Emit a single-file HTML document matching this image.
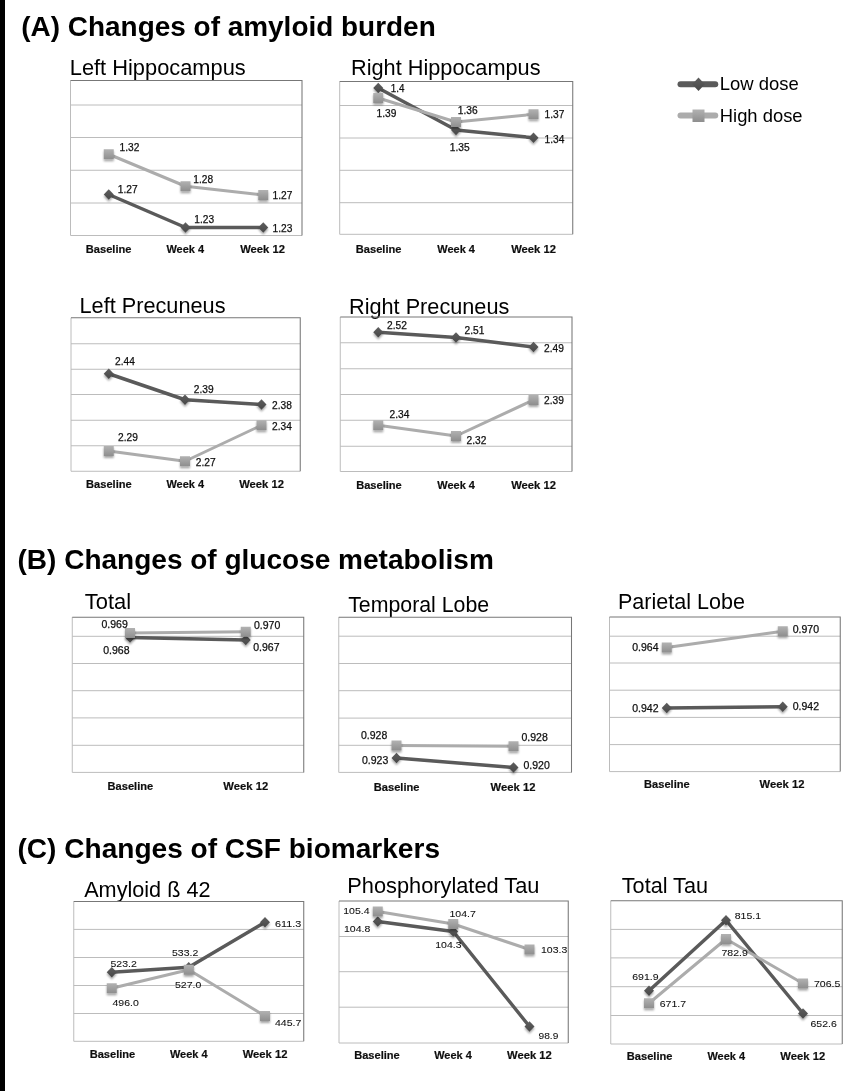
<!DOCTYPE html>
<html lang="en"><head><meta charset="utf-8"><title>Figure</title>
<style>html,body{margin:0;padding:0;background:#fff}body{width:868px;height:1091px;overflow:hidden}svg{display:block}text{font-family:"Liberation Sans",sans-serif;fill:#1c1c1c}.h{font-weight:bold;font-size:27.8px;fill:#000}.t{font-size:21.9px;fill:#000}.l{font-size:10px;fill:#111;stroke:#111;stroke-width:0.25px}.a{font-size:11.3px;font-weight:bold;fill:#111;stroke:#111;stroke-width:0.2px}.g{font-size:18.6px;fill:#000}</style></head><body>
<svg width="868" height="1091" viewBox="0 0 868 1091">
<defs><linearGradient id="lg" x1="0" y1="0" x2="0" y2="1"><stop offset="0" stop-color="#b2b2b2"/><stop offset="1" stop-color="#8e8e8e"/></linearGradient><linearGradient id="dg" x1="0" y1="0" x2="0" y2="1"><stop offset="0" stop-color="#5e5e5e"/><stop offset="1" stop-color="#484848"/></linearGradient><filter id="sh" filterUnits="userSpaceOnUse" x="0" y="0" width="868" height="1091"><feGaussianBlur in="SourceAlpha" stdDeviation="0.9"/><feOffset dx="0" dy="1.6" result="b"/><feComponentTransfer><feFuncA type="linear" slope="0.36"/></feComponentTransfer><feMerge><feMergeNode/><feMergeNode in="SourceGraphic"/></feMerge></filter><filter id="bl"><feGaussianBlur stdDeviation="0.3"/></filter></defs>
<rect x="0" y="0" width="868" height="1091" fill="#fff"/>
<rect x="0" y="0" width="5" height="1091" fill="#000"/>
<g filter="url(#bl)">
<text class="h" x="21.3" y="36.1" textLength="414.4" lengthAdjust="spacingAndGlyphs">(A) Changes of amyloid burden</text>
<text class="h" x="17.5" y="568.8" textLength="476.3" lengthAdjust="spacingAndGlyphs">(B) Changes of glucose metabolism</text>
<text class="h" x="17.5" y="858.35" textLength="422.5" lengthAdjust="spacingAndGlyphs">(C) Changes of CSF biomarkers</text>
<g>
<text class="t" x="69.75" y="74.5" textLength="176" lengthAdjust="spacingAndGlyphs">Left Hippocampus</text>
<path d="M70.5 105H302" stroke="#bcbcbc" stroke-width="1" fill="none"/>
<path d="M70.5 137.5H302" stroke="#bcbcbc" stroke-width="1" fill="none"/>
<path d="M70.5 170.25H302" stroke="#bcbcbc" stroke-width="1" fill="none"/>
<path d="M70.5 203H302" stroke="#bcbcbc" stroke-width="1" fill="none"/>
<path d="M70.5 80.5V235.5H302" fill="none" stroke="#bcbcbc" stroke-width="1"/>
<path d="M70.5 80.5H302V235.5" fill="none" stroke="#777777" stroke-width="1.05"/>
<path d="M108.75 194.5L185.5 227.5L263.25 227.5" stroke="#5a5a5a" stroke-width="3.5" fill="none" stroke-linejoin="round" stroke-linecap="round"/>
<g filter="url(#sh)">
<path d="M108.75 189.25L113.75 194.5L108.75 199.75L103.75 194.5Z" fill="url(#dg)"/>
<path d="M185.5 222.25L190.5 227.5L185.5 232.75L180.5 227.5Z" fill="url(#dg)"/>
<path d="M263.25 222.25L268.25 227.5L263.25 232.75L258.25 227.5Z" fill="url(#dg)"/>
</g>
<path d="M108.75 154.25L185.5 186.25L263.25 195" stroke="#acacac" stroke-width="3.0" fill="none" stroke-linejoin="round" stroke-linecap="round"/>
<g filter="url(#sh)">
<rect x="103.75" y="149.25" width="10" height="10" fill="url(#lg)"/>
<rect x="180.5" y="181.25" width="10" height="10" fill="url(#lg)"/>
<rect x="258.25" y="190" width="10" height="10" fill="url(#lg)"/>
</g>
<text class="l" x="119.5" y="151.2" textLength="19.8" lengthAdjust="spacingAndGlyphs">1.32</text>
<text class="l" x="117.8" y="193.1" textLength="19.8" lengthAdjust="spacingAndGlyphs">1.27</text>
<text class="l" x="193.25" y="183.25" textLength="19.8" lengthAdjust="spacingAndGlyphs">1.28</text>
<text class="l" x="194.25" y="223" textLength="19.8" lengthAdjust="spacingAndGlyphs">1.23</text>
<text class="l" x="272.5" y="199.25" textLength="19.8" lengthAdjust="spacingAndGlyphs">1.27</text>
<text class="l" x="272.5" y="231.75" textLength="19.8" lengthAdjust="spacingAndGlyphs">1.23</text>
<text class="a" x="85.8" y="253.25" textLength="45.6" lengthAdjust="spacingAndGlyphs">Baseline</text>
<text class="a" x="166.45" y="253.25" textLength="37.6" lengthAdjust="spacingAndGlyphs">Week 4</text>
<text class="a" x="240.2" y="253.25" textLength="44.8" lengthAdjust="spacingAndGlyphs">Week 12</text>
</g>
<g>
<text class="t" x="351" y="74.5" textLength="189.5" lengthAdjust="spacingAndGlyphs">Right Hippocampus</text>
<path d="M339.7 105.5H572.75" stroke="#bcbcbc" stroke-width="1" fill="none"/>
<path d="M339.7 138H572.75" stroke="#bcbcbc" stroke-width="1" fill="none"/>
<path d="M339.7 170.3H572.75" stroke="#bcbcbc" stroke-width="1" fill="none"/>
<path d="M339.7 202.7H572.75" stroke="#bcbcbc" stroke-width="1" fill="none"/>
<path d="M339.7 81.4V234.3H572.75" fill="none" stroke="#bcbcbc" stroke-width="1"/>
<path d="M339.7 81.4H572.75V234.3" fill="none" stroke="#777777" stroke-width="1.05"/>
<path d="M378.25 88L456 130L533.5 137.75" stroke="#5a5a5a" stroke-width="3.5" fill="none" stroke-linejoin="round" stroke-linecap="round"/>
<g filter="url(#sh)">
<path d="M378.25 82.75L383.25 88L378.25 93.25L373.25 88Z" fill="url(#dg)"/>
<path d="M456 124.75L461 130L456 135.25L451 130Z" fill="url(#dg)"/>
<path d="M533.5 132.5L538.5 137.75L533.5 143L528.5 137.75Z" fill="url(#dg)"/>
</g>
<path d="M378.25 98L456 122L533.5 114.25" stroke="#acacac" stroke-width="3.0" fill="none" stroke-linejoin="round" stroke-linecap="round"/>
<g filter="url(#sh)">
<rect x="373.25" y="93" width="10" height="10" fill="url(#lg)"/>
<rect x="451" y="117" width="10" height="10" fill="url(#lg)"/>
<rect x="528.5" y="109.25" width="10" height="10" fill="url(#lg)"/>
</g>
<text class="l" x="390.75" y="91.5" textLength="13.6" lengthAdjust="spacingAndGlyphs">1.4</text>
<text class="l" x="376.5" y="117" textLength="19.8" lengthAdjust="spacingAndGlyphs">1.39</text>
<text class="l" x="457.75" y="113.75" textLength="19.8" lengthAdjust="spacingAndGlyphs">1.36</text>
<text class="l" x="449.75" y="151.25" textLength="19.8" lengthAdjust="spacingAndGlyphs">1.35</text>
<text class="l" x="544.5" y="118.25" textLength="19.8" lengthAdjust="spacingAndGlyphs">1.37</text>
<text class="l" x="544.5" y="142.5" textLength="19.8" lengthAdjust="spacingAndGlyphs">1.34</text>
<text class="a" x="355.8" y="252.5" textLength="45.6" lengthAdjust="spacingAndGlyphs">Baseline</text>
<text class="a" x="437.3" y="252.5" textLength="37.6" lengthAdjust="spacingAndGlyphs">Week 4</text>
<text class="a" x="511.2" y="252.5" textLength="44.8" lengthAdjust="spacingAndGlyphs">Week 12</text>
</g>
<g>
<text class="t" x="79.5" y="313.25" textLength="146" lengthAdjust="spacingAndGlyphs">Left Precuneus</text>
<path d="M71 343.75H300.25" stroke="#bcbcbc" stroke-width="1" fill="none"/>
<path d="M71 369.25H300.25" stroke="#bcbcbc" stroke-width="1" fill="none"/>
<path d="M71 394.5H300.25" stroke="#bcbcbc" stroke-width="1" fill="none"/>
<path d="M71 420.25H300.25" stroke="#bcbcbc" stroke-width="1" fill="none"/>
<path d="M71 445.75H300.25" stroke="#bcbcbc" stroke-width="1" fill="none"/>
<path d="M71 317.75V471.25H300.25" fill="none" stroke="#bcbcbc" stroke-width="1"/>
<path d="M71 317.75H300.25V471.25" fill="none" stroke="#777777" stroke-width="1.05"/>
<path d="M108.75 373.75L185 399.75L261.5 404.5" stroke="#5a5a5a" stroke-width="3.5" fill="none" stroke-linejoin="round" stroke-linecap="round"/>
<g filter="url(#sh)">
<path d="M108.75 368.5L113.75 373.75L108.75 379L103.75 373.75Z" fill="url(#dg)"/>
<path d="M185 394.5L190 399.75L185 405L180 399.75Z" fill="url(#dg)"/>
<path d="M261.5 399.25L266.5 404.5L261.5 409.75L256.5 404.5Z" fill="url(#dg)"/>
</g>
<path d="M108.75 451L185 461.25L261.5 425.25" stroke="#acacac" stroke-width="3.0" fill="none" stroke-linejoin="round" stroke-linecap="round"/>
<g filter="url(#sh)">
<rect x="103.75" y="446" width="10" height="10" fill="url(#lg)"/>
<rect x="180" y="456.25" width="10" height="10" fill="url(#lg)"/>
<rect x="256.5" y="420.25" width="10" height="10" fill="url(#lg)"/>
</g>
<text class="l" x="115" y="365.25" textLength="19.8" lengthAdjust="spacingAndGlyphs">2.44</text>
<text class="l" x="193.75" y="393.25" textLength="19.8" lengthAdjust="spacingAndGlyphs">2.39</text>
<text class="l" x="118" y="441.25" textLength="19.8" lengthAdjust="spacingAndGlyphs">2.29</text>
<text class="l" x="195.75" y="465.75" textLength="19.8" lengthAdjust="spacingAndGlyphs">2.27</text>
<text class="l" x="272" y="409" textLength="19.8" lengthAdjust="spacingAndGlyphs">2.38</text>
<text class="l" x="272" y="429.5" textLength="19.8" lengthAdjust="spacingAndGlyphs">2.34</text>
<text class="a" x="86.1" y="488.25" textLength="45.6" lengthAdjust="spacingAndGlyphs">Baseline</text>
<text class="a" x="166.45" y="488.25" textLength="37.6" lengthAdjust="spacingAndGlyphs">Week 4</text>
<text class="a" x="239.2" y="488.25" textLength="44.8" lengthAdjust="spacingAndGlyphs">Week 12</text>
</g>
<g>
<text class="t" x="349" y="314.1" textLength="160.3" lengthAdjust="spacingAndGlyphs">Right Precuneus</text>
<path d="M340.25 342.75H572" stroke="#bcbcbc" stroke-width="1" fill="none"/>
<path d="M340.25 368.75H572" stroke="#bcbcbc" stroke-width="1" fill="none"/>
<path d="M340.25 394.5H572" stroke="#bcbcbc" stroke-width="1" fill="none"/>
<path d="M340.25 420.25H572" stroke="#bcbcbc" stroke-width="1" fill="none"/>
<path d="M340.25 446.25H572" stroke="#bcbcbc" stroke-width="1" fill="none"/>
<path d="M340.25 317V471.5H572" fill="none" stroke="#bcbcbc" stroke-width="1"/>
<path d="M340.25 317H572V471.5" fill="none" stroke="#777777" stroke-width="1.05"/>
<path d="M378.25 332.25L456 337.5L533.5 347" stroke="#5a5a5a" stroke-width="3.5" fill="none" stroke-linejoin="round" stroke-linecap="round"/>
<g filter="url(#sh)">
<path d="M378.25 327L383.25 332.25L378.25 337.5L373.25 332.25Z" fill="url(#dg)"/>
<path d="M456 332.25L461 337.5L456 342.75L451 337.5Z" fill="url(#dg)"/>
<path d="M533.5 341.75L538.5 347L533.5 352.25L528.5 347Z" fill="url(#dg)"/>
</g>
<path d="M378.25 425.25L456 436L533.5 400" stroke="#acacac" stroke-width="3.0" fill="none" stroke-linejoin="round" stroke-linecap="round"/>
<g filter="url(#sh)">
<rect x="373.25" y="420.25" width="10" height="10" fill="url(#lg)"/>
<rect x="451" y="431" width="10" height="10" fill="url(#lg)"/>
<rect x="528.5" y="395" width="10" height="10" fill="url(#lg)"/>
</g>
<text class="l" x="387" y="328.75" textLength="19.8" lengthAdjust="spacingAndGlyphs">2.52</text>
<text class="l" x="389.5" y="417.75" textLength="19.8" lengthAdjust="spacingAndGlyphs">2.34</text>
<text class="l" x="464.5" y="333.75" textLength="19.8" lengthAdjust="spacingAndGlyphs">2.51</text>
<text class="l" x="466.5" y="444" textLength="19.8" lengthAdjust="spacingAndGlyphs">2.32</text>
<text class="l" x="544" y="352" textLength="19.8" lengthAdjust="spacingAndGlyphs">2.49</text>
<text class="l" x="544" y="404" textLength="19.8" lengthAdjust="spacingAndGlyphs">2.39</text>
<text class="a" x="356.2" y="489" textLength="45.6" lengthAdjust="spacingAndGlyphs">Baseline</text>
<text class="a" x="437.3" y="489" textLength="37.6" lengthAdjust="spacingAndGlyphs">Week 4</text>
<text class="a" x="511.2" y="489" textLength="44.8" lengthAdjust="spacingAndGlyphs">Week 12</text>
</g>
<g>
<text class="t" x="84.75" y="609.1" textLength="46.3" lengthAdjust="spacingAndGlyphs">Total</text>
<path d="M72.25 636.3H303.75" stroke="#bcbcbc" stroke-width="1" fill="none"/>
<path d="M72.25 663.5H303.75" stroke="#bcbcbc" stroke-width="1" fill="none"/>
<path d="M72.25 690.7H303.75" stroke="#bcbcbc" stroke-width="1" fill="none"/>
<path d="M72.25 717.9H303.75" stroke="#bcbcbc" stroke-width="1" fill="none"/>
<path d="M72.25 745.3H303.75" stroke="#bcbcbc" stroke-width="1" fill="none"/>
<path d="M72.25 617.2V772.4H303.75" fill="none" stroke="#bcbcbc" stroke-width="1"/>
<path d="M72.25 617.2H303.75V772.4" fill="none" stroke="#777777" stroke-width="1.05"/>
<path d="M130 637.5L245.75 640" stroke="#5a5a5a" stroke-width="3.5" fill="none" stroke-linejoin="round" stroke-linecap="round"/>
<g filter="url(#sh)">
<path d="M130 632.25L135 637.5L130 642.75L125 637.5Z" fill="url(#dg)"/>
<path d="M245.75 634.75L250.75 640L245.75 645.25L240.75 640Z" fill="url(#dg)"/>
</g>
<path d="M130 633L245.75 631.75" stroke="#acacac" stroke-width="3.0" fill="none" stroke-linejoin="round" stroke-linecap="round"/>
<g filter="url(#sh)">
<rect x="125" y="628" width="10" height="10" fill="url(#lg)"/>
<rect x="240.75" y="626.75" width="10" height="10" fill="url(#lg)"/>
</g>
<text class="l" x="101.5" y="628" textLength="26.3" lengthAdjust="spacingAndGlyphs">0.969</text>
<text class="l" x="103.25" y="653.75" textLength="26.3" lengthAdjust="spacingAndGlyphs">0.968</text>
<text class="l" x="254" y="629.25" textLength="26.3" lengthAdjust="spacingAndGlyphs">0.970</text>
<text class="l" x="253.25" y="651.25" textLength="26.3" lengthAdjust="spacingAndGlyphs">0.967</text>
<text class="a" x="107.6" y="790" textLength="45.6" lengthAdjust="spacingAndGlyphs">Baseline</text>
<text class="a" x="223.35" y="790" textLength="44.8" lengthAdjust="spacingAndGlyphs">Week 12</text>
</g>
<g>
<text class="t" x="348.2" y="611.8" textLength="141" lengthAdjust="spacingAndGlyphs">Temporal Lobe</text>
<path d="M338.75 636.2H571.5" stroke="#bcbcbc" stroke-width="1" fill="none"/>
<path d="M338.75 663.5H571.5" stroke="#bcbcbc" stroke-width="1" fill="none"/>
<path d="M338.75 690.7H571.5" stroke="#bcbcbc" stroke-width="1" fill="none"/>
<path d="M338.75 718.1H571.5" stroke="#bcbcbc" stroke-width="1" fill="none"/>
<path d="M338.75 745.3H571.5" stroke="#bcbcbc" stroke-width="1" fill="none"/>
<path d="M338.75 617.2V772.4H571.5" fill="none" stroke="#bcbcbc" stroke-width="1"/>
<path d="M338.75 617.2H571.5V772.4" fill="none" stroke="#777777" stroke-width="1.05"/>
<path d="M396.5 758L513.5 767.5" stroke="#5a5a5a" stroke-width="3.5" fill="none" stroke-linejoin="round" stroke-linecap="round"/>
<g filter="url(#sh)">
<path d="M396.5 752.75L401.5 758L396.5 763.25L391.5 758Z" fill="url(#dg)"/>
<path d="M513.5 762.25L518.5 767.5L513.5 772.75L508.5 767.5Z" fill="url(#dg)"/>
</g>
<path d="M396.5 745.5L513.5 746.25" stroke="#acacac" stroke-width="3.0" fill="none" stroke-linejoin="round" stroke-linecap="round"/>
<g filter="url(#sh)">
<rect x="391.5" y="740.5" width="10" height="10" fill="url(#lg)"/>
<rect x="508.5" y="741.25" width="10" height="10" fill="url(#lg)"/>
</g>
<text class="l" x="361" y="738.75" textLength="26.3" lengthAdjust="spacingAndGlyphs">0.928</text>
<text class="l" x="362" y="763.75" textLength="26.3" lengthAdjust="spacingAndGlyphs">0.923</text>
<text class="l" x="521.5" y="740.75" textLength="26.3" lengthAdjust="spacingAndGlyphs">0.928</text>
<text class="l" x="523.5" y="769.25" textLength="26.3" lengthAdjust="spacingAndGlyphs">0.920</text>
<text class="a" x="373.8" y="790.5" textLength="45.6" lengthAdjust="spacingAndGlyphs">Baseline</text>
<text class="a" x="490.6" y="790.5" textLength="44.8" lengthAdjust="spacingAndGlyphs">Week 12</text>
</g>
<g>
<text class="t" x="618" y="609.25" textLength="127" lengthAdjust="spacingAndGlyphs">Parietal Lobe</text>
<path d="M609.5 636.2H840.25" stroke="#bcbcbc" stroke-width="1" fill="none"/>
<path d="M609.5 663H840.25" stroke="#bcbcbc" stroke-width="1" fill="none"/>
<path d="M609.5 690.2H840.25" stroke="#bcbcbc" stroke-width="1" fill="none"/>
<path d="M609.5 717.4H840.25" stroke="#bcbcbc" stroke-width="1" fill="none"/>
<path d="M609.5 744.6H840.25" stroke="#bcbcbc" stroke-width="1" fill="none"/>
<path d="M609.5 617V771.6H840.25" fill="none" stroke="#bcbcbc" stroke-width="1"/>
<path d="M609.5 617H840.25V771.6" fill="none" stroke="#777777" stroke-width="1.05"/>
<path d="M666.75 708L782.75 706.75" stroke="#5a5a5a" stroke-width="3.5" fill="none" stroke-linejoin="round" stroke-linecap="round"/>
<g filter="url(#sh)">
<path d="M666.75 702.75L671.75 708L666.75 713.25L661.75 708Z" fill="url(#dg)"/>
<path d="M782.75 701.5L787.75 706.75L782.75 712L777.75 706.75Z" fill="url(#dg)"/>
</g>
<path d="M666.75 647.5L782.75 631.25" stroke="#acacac" stroke-width="3.0" fill="none" stroke-linejoin="round" stroke-linecap="round"/>
<g filter="url(#sh)">
<rect x="661.75" y="642.5" width="10" height="10" fill="url(#lg)"/>
<rect x="777.75" y="626.25" width="10" height="10" fill="url(#lg)"/>
</g>
<text class="l" x="632.25" y="651.25" textLength="26.3" lengthAdjust="spacingAndGlyphs">0.964</text>
<text class="l" x="632.25" y="712" textLength="26.3" lengthAdjust="spacingAndGlyphs">0.942</text>
<text class="l" x="792.75" y="632.5" textLength="26.3" lengthAdjust="spacingAndGlyphs">0.970</text>
<text class="l" x="792.75" y="710" textLength="26.3" lengthAdjust="spacingAndGlyphs">0.942</text>
<text class="a" x="644.1" y="788.25" textLength="45.6" lengthAdjust="spacingAndGlyphs">Baseline</text>
<text class="a" x="759.6" y="788.25" textLength="44.8" lengthAdjust="spacingAndGlyphs">Week 12</text>
</g>
<g>
<text class="t" x="84.2" y="897" textLength="126.3" lengthAdjust="spacingAndGlyphs">Amyloid ß 42</text>
<path d="M73.75 929.4H303.75" stroke="#bcbcbc" stroke-width="1" fill="none"/>
<path d="M73.75 957.5H303.75" stroke="#bcbcbc" stroke-width="1" fill="none"/>
<path d="M73.75 985.5H303.75" stroke="#bcbcbc" stroke-width="1" fill="none"/>
<path d="M73.75 1013.5H303.75" stroke="#bcbcbc" stroke-width="1" fill="none"/>
<path d="M73.75 901.4V1041.3H303.75" fill="none" stroke="#bcbcbc" stroke-width="1"/>
<path d="M73.75 901.4H303.75V1041.3" fill="none" stroke="#777777" stroke-width="1.05"/>
<path d="M111.75 972.25L188.75 967.25L265 922.25" stroke="#5a5a5a" stroke-width="3.5" fill="none" stroke-linejoin="round" stroke-linecap="round"/>
<g filter="url(#sh)">
<path d="M111.75 967L116.75 972.25L111.75 977.5L106.75 972.25Z" fill="url(#dg)"/>
<path d="M188.75 962L193.75 967.25L188.75 972.5L183.75 967.25Z" fill="url(#dg)"/>
<path d="M265 917L270 922.25L265 927.5L260 922.25Z" fill="url(#dg)"/>
</g>
<path d="M111.75 988.25L188.75 969.75L265 1016" stroke="#acacac" stroke-width="3.0" fill="none" stroke-linejoin="round" stroke-linecap="round"/>
<g filter="url(#sh)">
<rect x="106.75" y="983.25" width="10" height="10" fill="url(#lg)"/>
<rect x="183.75" y="964.75" width="10" height="10" fill="url(#lg)"/>
<rect x="260" y="1011" width="10" height="10" fill="url(#lg)"/>
</g>
<text class="l" style="font-size:9.5px;stroke-width:0.08px" x="110.5" y="966.5" textLength="26.3" lengthAdjust="spacingAndGlyphs">523.2</text>
<text class="l" style="font-size:9.5px;stroke-width:0.08px" x="172" y="956" textLength="26.3" lengthAdjust="spacingAndGlyphs">533.2</text>
<text class="l" style="font-size:9.5px;stroke-width:0.08px" x="175" y="987.75" textLength="26.3" lengthAdjust="spacingAndGlyphs">527.0</text>
<text class="l" style="font-size:9.5px;stroke-width:0.08px" x="112.5" y="1006" textLength="26.3" lengthAdjust="spacingAndGlyphs">496.0</text>
<text class="l" style="font-size:9.5px;stroke-width:0.08px" x="275" y="927" textLength="26.3" lengthAdjust="spacingAndGlyphs">611.3</text>
<text class="l" style="font-size:9.5px;stroke-width:0.08px" x="275" y="1026" textLength="26.3" lengthAdjust="spacingAndGlyphs">445.7</text>
<text class="a" x="89.7" y="1057.75" textLength="45.6" lengthAdjust="spacingAndGlyphs">Baseline</text>
<text class="a" x="169.95" y="1057.75" textLength="37.6" lengthAdjust="spacingAndGlyphs">Week 4</text>
<text class="a" x="242.7" y="1057.75" textLength="44.8" lengthAdjust="spacingAndGlyphs">Week 12</text>
</g>
<g>
<text class="t" x="347.3" y="892.75" textLength="192.1" lengthAdjust="spacingAndGlyphs">Phosphorylated Tau</text>
<path d="M339 936.5H568.25" stroke="#bcbcbc" stroke-width="1" fill="none"/>
<path d="M339 971.7H568.25" stroke="#bcbcbc" stroke-width="1" fill="none"/>
<path d="M339 1007.2H568.25" stroke="#bcbcbc" stroke-width="1" fill="none"/>
<path d="M339 901V1043H568.25" fill="none" stroke="#bcbcbc" stroke-width="1"/>
<path d="M339 901H568.25V1043" fill="none" stroke="#777777" stroke-width="1.05"/>
<path d="M377.75 921.5L453.25 931.5L529.5 1026.5" stroke="#5a5a5a" stroke-width="3.5" fill="none" stroke-linejoin="round" stroke-linecap="round"/>
<g filter="url(#sh)">
<path d="M377.75 916.25L382.75 921.5L377.75 926.75L372.75 921.5Z" fill="url(#dg)"/>
<path d="M453.25 926.25L458.25 931.5L453.25 936.75L448.25 931.5Z" fill="url(#dg)"/>
<path d="M529.5 1021.25L534.5 1026.5L529.5 1031.75L524.5 1026.5Z" fill="url(#dg)"/>
</g>
<path d="M377.75 911.5L453.25 924L529.5 949.5" stroke="#acacac" stroke-width="3.0" fill="none" stroke-linejoin="round" stroke-linecap="round"/>
<g filter="url(#sh)">
<rect x="372.75" y="906.5" width="10" height="10" fill="url(#lg)"/>
<rect x="448.25" y="919" width="10" height="10" fill="url(#lg)"/>
<rect x="524.5" y="944.5" width="10" height="10" fill="url(#lg)"/>
</g>
<text class="l" style="font-size:9.5px;stroke-width:0.08px" x="343.25" y="914" textLength="26.3" lengthAdjust="spacingAndGlyphs">105.4</text>
<text class="l" style="font-size:9.5px;stroke-width:0.08px" x="344" y="931.5" textLength="26.3" lengthAdjust="spacingAndGlyphs">104.8</text>
<text class="l" style="font-size:9.5px;stroke-width:0.08px" x="449.5" y="916.5" textLength="26.3" lengthAdjust="spacingAndGlyphs">104.7</text>
<text class="l" style="font-size:9.5px;stroke-width:0.08px" x="435.25" y="947.75" textLength="26.3" lengthAdjust="spacingAndGlyphs">104.3</text>
<text class="l" style="font-size:9.5px;stroke-width:0.08px" x="541" y="953.25" textLength="26.3" lengthAdjust="spacingAndGlyphs">103.3</text>
<text class="l" style="font-size:9.5px;stroke-width:0.08px" x="538.5" y="1038.5" textLength="19.8" lengthAdjust="spacingAndGlyphs">98.9</text>
<text class="a" x="354.2" y="1059" textLength="45.6" lengthAdjust="spacingAndGlyphs">Baseline</text>
<text class="a" x="434.2" y="1059" textLength="37.6" lengthAdjust="spacingAndGlyphs">Week 4</text>
<text class="a" x="507" y="1059" textLength="44.8" lengthAdjust="spacingAndGlyphs">Week 12</text>
</g>
<g>
<text class="t" x="621.8" y="892.75" textLength="86.2" lengthAdjust="spacingAndGlyphs">Total Tau</text>
<path d="M610.75 929.4H842.25" stroke="#bcbcbc" stroke-width="1" fill="none"/>
<path d="M610.75 957.9H842.25" stroke="#bcbcbc" stroke-width="1" fill="none"/>
<path d="M610.75 986.7H842.25" stroke="#bcbcbc" stroke-width="1" fill="none"/>
<path d="M610.75 1015.5H842.25" stroke="#bcbcbc" stroke-width="1" fill="none"/>
<path d="M610.75 900.75V1044H842.25" fill="none" stroke="#bcbcbc" stroke-width="1"/>
<path d="M610.75 900.75H842.25V1044" fill="none" stroke="#777777" stroke-width="1.05"/>
<path d="M649 990.75L726 920.25L803 1013.5" stroke="#5a5a5a" stroke-width="3.5" fill="none" stroke-linejoin="round" stroke-linecap="round"/>
<g filter="url(#sh)">
<path d="M649 985.5L654 990.75L649 996L644 990.75Z" fill="url(#dg)"/>
<path d="M726 915L731 920.25L726 925.5L721 920.25Z" fill="url(#dg)"/>
<path d="M803 1008.25L808 1013.5L803 1018.75L798 1013.5Z" fill="url(#dg)"/>
</g>
<path d="M649 1003.25L726 939L803 983.5" stroke="#acacac" stroke-width="3.0" fill="none" stroke-linejoin="round" stroke-linecap="round"/>
<g filter="url(#sh)">
<rect x="644" y="998.25" width="10" height="10" fill="url(#lg)"/>
<rect x="721" y="934" width="10" height="10" fill="url(#lg)"/>
<rect x="798" y="978.5" width="10" height="10" fill="url(#lg)"/>
</g>
<text class="l" style="font-size:9.5px;stroke-width:0.08px" x="632.25" y="979.75" textLength="26.3" lengthAdjust="spacingAndGlyphs">691.9</text>
<text class="l" style="font-size:9.5px;stroke-width:0.08px" x="659.75" y="1007" textLength="26.3" lengthAdjust="spacingAndGlyphs">671.7</text>
<text class="l" style="font-size:9.5px;stroke-width:0.08px" x="734.75" y="919" textLength="26.3" lengthAdjust="spacingAndGlyphs">815.1</text>
<text class="l" style="font-size:9.5px;stroke-width:0.08px" x="721.5" y="956.4" textLength="26.3" lengthAdjust="spacingAndGlyphs">782.9</text>
<text class="l" style="font-size:9.5px;stroke-width:0.08px" x="814" y="987.25" textLength="26.3" lengthAdjust="spacingAndGlyphs">706.5</text>
<text class="l" style="font-size:9.5px;stroke-width:0.08px" x="810.5" y="1026.5" textLength="26.3" lengthAdjust="spacingAndGlyphs">652.6</text>
<text class="a" x="626.8" y="1059.75" textLength="45.6" lengthAdjust="spacingAndGlyphs">Baseline</text>
<text class="a" x="707.45" y="1059.75" textLength="37.6" lengthAdjust="spacingAndGlyphs">Week 4</text>
<text class="a" x="780.35" y="1059.75" textLength="44.8" lengthAdjust="spacingAndGlyphs">Week 12</text>
</g>
<g>
<path d="M680.5 84.25H715.25" stroke="#5a5a5a" stroke-width="6" stroke-linecap="round" fill="none"/>
<path d="M698.5 77.5L704.75 84.25L698.5 91L692.25 84.25Z" fill="url(#dg)"/>
<text class="g" x="719.8" y="90" textLength="79" lengthAdjust="spacingAndGlyphs">Low dose</text>
<path d="M680.5 115.5H715.25" stroke="#acacac" stroke-width="6" stroke-linecap="round" fill="none"/>
<rect x="692.5" y="109.5" width="12" height="12.5" fill="url(#lg)"/>
<text class="g" x="719.8" y="122.4" textLength="82.75" lengthAdjust="spacingAndGlyphs">High dose</text>
</g>
</g>
</svg></body></html>
